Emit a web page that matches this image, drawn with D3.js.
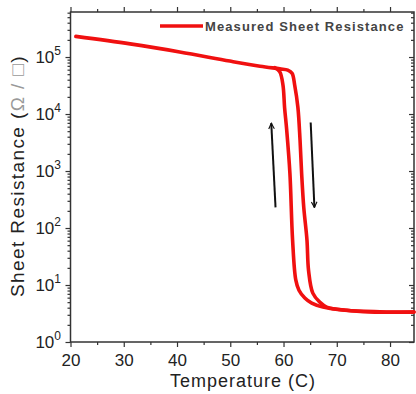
<!DOCTYPE html>
<html><head><meta charset="utf-8">
<script src="https://cdn.jsdelivr.net/npm/d3@7"></script>
<style>body{margin:0;background:#fff}svg{display:block}</style>
</head><body>
<svg id="c" width="416" height="394"></svg>
<script>
// Data (temperature in C, sheet resistance in ohm/sq)
const heatingT = [21, 31.2, 40.5, 49.9, 55.6, 59.3, 60.8, 61.6, 62.1, 62.7, 63.1, 63.4, 63.8, 64.4, 64.7, 65.5, 66.8, 68.1, 71.9, 78.1, 84.5];
const heatingR = [2.3e5, 1.7e5, 1.23e5, 8.5e4, 6.9e4, 6.2e4, 5.9e4, 5.2e4, 3.2e4, 1.3e4, 3.5e3, 9.1e2, 2.3e2, 62, 18, 7.2, 5.0, 4.1, 3.6, 3.4, 3.35];
const coolingT = [84.5, 75, 67.4, 65.3, 64.0, 62.9, 62.3, 61.7, 61.2, 60.6, 60.2, 59.9, 59.3, 58.4];
const coolingR = [3.35, 3.4, 4.1, 4.8, 5.9, 8.1, 12.3, 62, 9.1e2, 5.2e3, 1.3e4, 3.2e4, 5.5e4, 6.5e4];
const arrowUp = [[58.5, 230], [57.7, 6900]];
const arrowDown = [[65.1, 7100], [65.8, 230]];
const xTicks = [20, 30, 40, 50, 60, 70, 80];
const xMinor = [25, 35, 45, 55, 65, 75];
const yTicks = [1, 10, 100, 1000, 10000, 100000];
const yExponents = ["0", "1", "2", "3", "4", "5"];
const legendLabel = "Measured Sheet Resistance";

const svg = d3.select("#c");
const L = 70.5, R = 414, T = 12, B = 342;
const x = d3.scaleLinear().domain([20, 84.5]).range([L, R]);
const y = d3.scaleLog().domain([1, Math.pow(10, 5.79)]).range([B, T]);
const axisColor = "#333";
const font = "Liberation Sans, Arial, sans-serif";

// Minor y ticks
const yMinor = [];
for (let d = 0; d < 6; d++) for (let m = 2; m <= 9; m++) { const v = m * Math.pow(10, d); if (v <= y.domain()[1]) yMinor.push(v); }

// Axes
function styleAxis(g) {
  g.select(".domain").remove();
  g.selectAll("line").attr("stroke", axisColor).attr("stroke-width", 1.2);
}
svg.append("g").attr("transform", `translate(0,${B})`)
  .call(d3.axisBottom(x).tickValues(xTicks).tickSize(5).tickFormat(d3.format("d")))
  .call(styleAxis)
  .call(g => g.selectAll("text").attr("font-family", font).attr("font-size", 17).attr("fill", "#222").attr("dy", "0.95em"));
svg.append("g").attr("transform", `translate(0,${B})`)
  .call(d3.axisBottom(x).tickValues(xMinor).tickSize(3).tickFormat(""))
  .call(styleAxis);
svg.append("g").attr("transform", `translate(0,${T})`)
  .call(d3.axisTop(x).tickValues(xTicks).tickSize(5).tickFormat(""))
  .call(styleAxis);
svg.append("g").attr("transform", `translate(0,${T})`)
  .call(d3.axisTop(x).tickValues(xMinor).tickSize(3).tickFormat(""))
  .call(styleAxis);
svg.append("g").attr("transform", `translate(${L},0)`)
  .call(d3.axisLeft(y).tickValues(yTicks).tickSize(5).tickFormat(""))
  .call(styleAxis);
svg.append("g").attr("transform", `translate(${L},0)`)
  .call(d3.axisLeft(y).tickValues(yMinor).tickSize(3).tickFormat(""))
  .call(styleAxis);
svg.append("g").attr("transform", `translate(${R},0)`)
  .call(d3.axisLeft(y).tickValues(yTicks).tickSize(5).tickFormat(""))
  .call(styleAxis);
svg.append("g").attr("transform", `translate(${R},0)`)
  .call(d3.axisLeft(y).tickValues(yMinor).tickSize(3).tickFormat(""))
  .call(styleAxis);

// Frame
svg.append("rect").attr("x", L).attr("y", T).attr("width", R - L).attr("height", B - T)
  .attr("fill", "none").attr("stroke", axisColor).attr("stroke-width", 1.5);

// Y tick labels with superscripts
const yl = svg.append("g");
yTicks.forEach((v, i) => {
  const t = yl.append("text").attr("x", 61).attr("y", y(v) + 6)
    .attr("text-anchor", "end").attr("font-family", font).attr("fill", "#222");
  t.append("tspan").attr("font-size", 17).text("10");
  t.append("tspan").attr("font-size", 12).attr("dy", -8).text(yExponents[i]);
});

// Curves
const lineX = d3.line().x(d => x(d[0])).y(d => y(d[1])).curve(d3.curveCatmullRom.alpha(0.5));
const heat = heatingT.map((t, i) => [t, heatingR[i]]);
const cool = coolingT.map((t, i) => [t, coolingR[i]]);
[heat, cool].forEach(d => {
  svg.append("path").attr("d", lineX(d)).attr("fill", "none")
    .attr("stroke", "#f01010").attr("stroke-width", 3.6).attr("stroke-linejoin", "round").attr("stroke-linecap", "round");
});

// Arrows
svg.append("defs").append("marker").attr("id", "ah").attr("viewBox", "0 0 10 10")
  .attr("refX", 9).attr("refY", 5).attr("markerWidth", 7).attr("markerHeight", 7)
  .attr("markerUnits", "userSpaceOnUse").attr("orient", "auto")
  .append("path").attr("d", "M1,1 L9,5 L1,9").attr("fill", "none").attr("stroke", "#111").attr("stroke-width", 1.6);
[arrowUp, arrowDown].forEach(a => {
  svg.append("line").attr("x1", x(a[0][0])).attr("y1", y(a[0][1]))
    .attr("x2", x(a[1][0])).attr("y2", y(a[1][1]))
    .attr("stroke", "#111").attr("stroke-width", 2).attr("marker-end", "url(#ah)");
});

// Legend
svg.append("line").attr("x1", 160).attr("x2", 203).attr("y1", 26).attr("y2", 26)
  .attr("stroke", "#f01010").attr("stroke-width", 3.6);
svg.append("text").attr("x", 205).attr("y", 31).attr("font-family", font).attr("font-size", 13)
  .attr("font-weight", "bold").attr("letter-spacing", 1.1).attr("fill", "#444").text(legendLabel);

// Axis titles
svg.append("text").attr("x", 243).attr("y", 387).attr("text-anchor", "middle")
  .attr("font-family", font).attr("font-size", 18).attr("letter-spacing", 1).attr("fill", "#222")
  .text("Temperature (C)");
const yt = svg.append("text").attr("transform", "translate(24,176) rotate(-90)").attr("text-anchor", "middle")
  .attr("font-family", font).attr("font-size", 19).attr("letter-spacing", 1.4).attr("fill", "#222");
yt.append("tspan").text("Sheet Resistance (");
yt.append("tspan").attr("fill", "#999").text("Ω / □");
yt.append("tspan").text(")");
</script>
</body></html>
